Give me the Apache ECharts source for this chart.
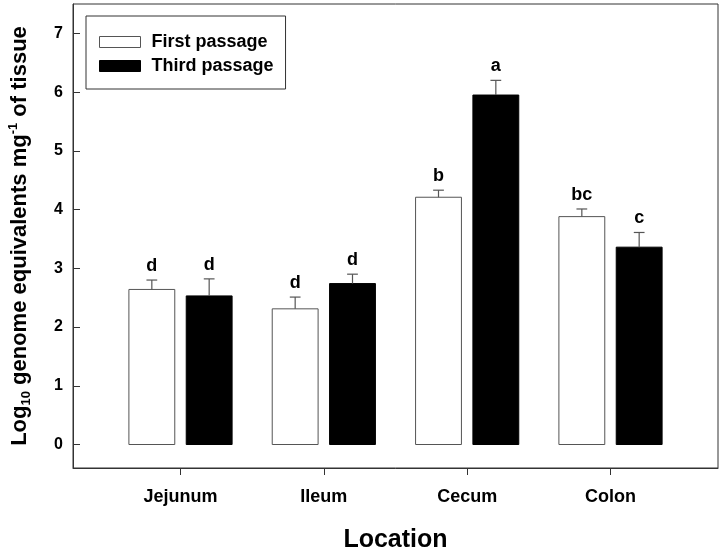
<!DOCTYPE html>
<html lang="en">
<head>
    <meta charset="UTF-8">
    <title>Genome equivalents by location</title>
    <script src="https://cdn.jsdelivr.net/npm/echarts@6/dist/echarts.min.js"></script>
</head>
<body style="margin:0">
<div id="chart" style="width:724px;height:550px"></div>
</body>
<script>
    var locations = ['Jejunum', 'Ileum', 'Cecum', 'Colon'];

    var firstPassage = [2.64, 2.31, 4.21, 3.88];
    var firstErr = [0.16, 0.20, 0.12, 0.13];
    var firstLetters = ['d', 'd', 'b', 'bc'];

    var thirdPassage = [2.53, 2.74, 5.95, 3.36];
    var thirdErr = [0.29, 0.16, 0.25, 0.25];
    var thirdLetters = ['d', 'd', 'a', 'c'];

    var yTicks = [0, 1, 2, 3, 4, 5, 6, 7];
    var xTicks = [1, 2, 3, 4];

    var FONT = 'Liberation Sans, Arial, sans-serif';

    var buildData = function(values, errs, letters) {
        var res = [];
        for (var i = 0; i < values.length; i++) {
            res.push({value: [i + 1, values[i], errs[i]], letter: letters[i]});
        }
        return res;
    };

    // bar + one-sided error bar + significance letter
    var makeRender = function(offset, fill, stroke, letters) {
        return function(params, api) {
            var x = api.value(0) + offset;
            var v = api.value(1);
            var e = api.value(2);
            var top = api.coord([x, v]);
            var base = api.coord([x, 0]);
            var errTop = api.coord([x, v + e]);
            var w = api.size([0.32, 0])[0];
            var cap = api.size([0.075, 0])[0];
            return {
                type: 'group',
                children: [
                    {
                        type: 'rect',
                        shape: {x: top[0] - w / 2, y: top[1], width: w, height: base[1] - top[1]},
                        style: {fill: fill, stroke: stroke, lineWidth: 1}
                    },
                    {
                        type: 'line',
                        shape: {x1: top[0], y1: top[1], x2: errTop[0], y2: errTop[1]},
                        style: {stroke: '#555', lineWidth: 1.2}
                    },
                    {
                        type: 'line',
                        shape: {x1: errTop[0] - cap / 2, y1: errTop[1], x2: errTop[0] + cap / 2, y2: errTop[1]},
                        style: {stroke: '#555', lineWidth: 1.2}
                    },
                    {
                        type: 'text',
                        x: errTop[0],
                        y: errTop[1] - 5,
                        style: {
                            text: letters[params.dataIndex],
                            fill: '#000',
                            font: 'bold 18px ' + FONT,
                            textAlign: 'center',
                            textVerticalAlign: 'bottom'
                        }
                    }
                ]
            };
        };
    };

    var myChart = echarts.init(document.getElementById('chart'));

    var option = {
        backgroundColor: '#fff',
        animation: false,
        grid: {
            left: 73,
            right: 6,
            top: 4,
            bottom: 82,
            outerBoundsMode: 'none',
            show: true,
            borderColor: '#333',
            borderWidth: 1
        },
        legend: {
            orient: 'vertical',
            left: 86,
            top: 16,
            padding: [17, 12, 14, 13],
            itemGap: 6,
            itemWidth: 41,
            itemHeight: 11,
            borderColor: '#333',
            borderWidth: 1,
            formatter: function(name) {
                return '{t|' + name + '}';
            },
            textStyle: {
                rich: {
                    t: {
                        fontFamily: FONT,
                        fontWeight: 'bold',
                        fontSize: 18,
                        lineHeight: 18,
                        color: '#000',
                        padding: [0, 0, 0, 6]
                    }
                }
            },
            data: [
                {name: 'First passage', icon: 'rect', itemStyle: {color: '#fff', borderColor: '#555', borderWidth: 1}},
                {name: 'Third passage', icon: 'rect', itemStyle: {color: '#000', borderColor: '#000', borderWidth: 1}}
            ]
        },
        xAxis: {
            type: 'value',
            min: 0.25,
            max: 4.75,
            name: 'Location',
            nameLocation: 'middle',
            nameGap: 60,
            nameTextStyle: {fontFamily: FONT, fontWeight: 'bold', fontSize: 25, color: '#000'},
            axisLine: {show: true, onZero: false, lineStyle: {color: '#333', width: 1}},
            axisTick: {show: true, inside: false, length: 7, customValues: xTicks, lineStyle: {color: '#333'}},
            axisLabel: {
                customValues: xTicks,
                margin: 20,
                fontFamily: FONT,
                fontWeight: 'bold',
                fontSize: 18,
                color: '#000',
                formatter: function(v) {
                    return locations[Math.round(v) - 1];
                }
            },
            splitLine: {show: false}
        },
        yAxis: {
            type: 'value',
            min: -0.4,
            max: 7.5,
            name: '{n|Log}{sub|10}{n| genome equivalents mg}{sup|-1}{n| of tissue}',
            nameLocation: 'middle',
            nameGap: 40,
            nameTextStyle: {
                rich: {
                    n: {fontFamily: FONT, fontWeight: 'bold', fontSize: 22, color: '#000', lineHeight: 26},
                    sub: {fontFamily: FONT, fontWeight: 'bold', fontSize: 13, color: '#000', verticalAlign: 'bottom', lineHeight: 26},
                    sup: {fontFamily: FONT, fontWeight: 'bold', fontSize: 13, color: '#000', verticalAlign: 'top', lineHeight: 26}
                }
            },
            axisLine: {show: true, onZero: false, lineStyle: {color: '#333', width: 1}},
            axisTick: {show: true, inside: true, length: 7, customValues: yTicks, lineStyle: {color: '#333'}},
            axisLabel: {
                customValues: yTicks,
                margin: 10,
                fontFamily: FONT,
                fontWeight: 'bold',
                fontSize: 16,
                color: '#000'
            },
            splitLine: {show: false}
        },
        series: [
            {
                name: 'First passage',
                type: 'custom',
                itemStyle: {color: '#fff'},
                renderItem: makeRender(-0.2, '#fff', '#555', firstLetters),
                data: buildData(firstPassage, firstErr, firstLetters)
            },
            {
                name: 'Third passage',
                type: 'custom',
                itemStyle: {color: '#000'},
                renderItem: makeRender(0.2, '#000', '#000', thirdLetters),
                data: buildData(thirdPassage, thirdErr, thirdLetters)
            }
        ]
    };

    myChart.setOption(option);
</script>
</html>
